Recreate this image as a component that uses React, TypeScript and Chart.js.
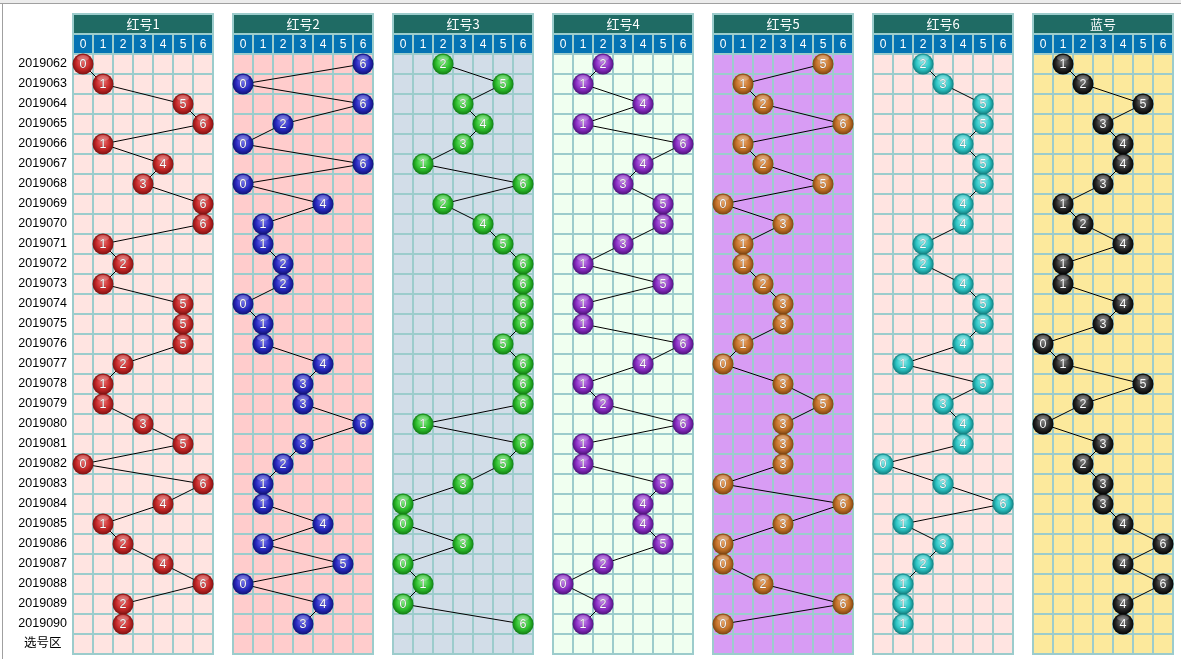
import React, { useEffect, useRef } from 'react';
import { Chart, registerables } from 'chart.js';

Chart.register(...registerables);

const periods = [
  '2019062', '2019063', '2019064', '2019065', '2019066', '2019067', '2019068', '2019069', '2019070', '2019071',
  '2019072', '2019073', '2019074', '2019075', '2019076', '2019077', '2019078', '2019079', '2019080', '2019081',
  '2019082', '2019083', '2019084', '2019085', '2019086', '2019087', '2019088', '2019089', '2019090',
];
const rowLabels = [...periods, '选号区'];
const panelTitles = ['红号1', '红号2', '红号3', '红号4', '红号5', '红号6', '蓝号'];
const columnDigits = ['0', '1', '2', '3', '4', '5', '6'];

const red1 = [0, 1, 5, 6, 1, 4, 3, 6, 6, 1, 2, 1, 5, 5, 5, 2, 1, 1, 3, 5, 0, 6, 4, 1, 2, 4, 6, 2, 2];
const red2 = [6, 0, 6, 2, 0, 6, 0, 4, 1, 1, 2, 2, 0, 1, 1, 4, 3, 3, 6, 3, 2, 1, 1, 4, 1, 5, 0, 4, 3];
const red3 = [2, 5, 3, 4, 3, 1, 6, 2, 4, 5, 6, 6, 6, 6, 5, 6, 6, 6, 1, 6, 5, 3, 0, 0, 3, 0, 1, 0, 6];
const red4 = [2, 1, 4, 1, 6, 4, 3, 5, 5, 3, 1, 5, 1, 1, 6, 4, 1, 2, 6, 1, 1, 5, 4, 4, 5, 2, 0, 2, 1];
const red5 = [5, 1, 2, 6, 1, 2, 5, 0, 3, 1, 1, 2, 3, 3, 1, 0, 3, 5, 3, 3, 3, 0, 6, 3, 0, 0, 2, 6, 0];
const red6 = [2, 3, 5, 5, 4, 5, 5, 4, 4, 2, 2, 4, 5, 5, 4, 1, 5, 3, 4, 4, 0, 3, 6, 1, 3, 2, 1, 1, 1];
const blue = [1, 2, 5, 3, 4, 4, 3, 1, 2, 4, 1, 1, 4, 3, 0, 1, 5, 2, 0, 3, 2, 3, 3, 4, 6, 4, 6, 4, 4];

const panelSeries = [red1, red2, red3, red4, red5, red6, blue];

const panelBg = ['#ffe4e1', '#ffcccc', '#d2dde8', '#f0fff0', '#d89cf4', '#ffe4e1', '#fce99c'];
// [light, base, dark]
const ballShades = [
  ['#ec6a6a', '#c22626', '#741010'],
  ['#7070f0', '#2828be', '#10106a'],
  ['#80ee80', '#2cbc2c', '#107410'],
  ['#c380ec', '#882cc2', '#481070'],
  ['#eca464', '#c07028', '#743e0e'],
  ['#84ecec', '#2cc2c2', '#107474'],
  ['#7a7a7a', '#262626', '#000000'],
];

const GRID = '#9ccccc';
const TEAL = '#1f6b64';
const HEAD_BLUE = '#0573b3';
const PANEL_STEP = 8;

function makeBall(shade: string[], label: string): HTMLCanvasElement {
  const c = document.createElement('canvas');
  c.width = 22;
  c.height = 22;
  const g = c.getContext('2d') as CanvasRenderingContext2D;
  const grad = g.createRadialGradient(11, 8, 1, 11, 11, 11);
  grad.addColorStop(0, shade[0]);
  grad.addColorStop(0.6, shade[1]);
  grad.addColorStop(1, shade[2]);
  g.beginPath();
  g.arc(11, 11, 10.5, 0, Math.PI * 2);
  g.fillStyle = grad;
  g.fill();
  g.beginPath();
  g.ellipse(11, 5, 6, 3, 0, 0, Math.PI * 2);
  g.fillStyle = 'rgba(255,255,255,0.25)';
  g.fill();
  g.font = '12.5px "Liberation Sans", Arial, sans-serif';
  g.textAlign = 'center';
  g.textBaseline = 'middle';
  g.shadowColor = 'rgba(0,0,0,0.7)';
  g.shadowBlur = 1;
  g.fillStyle = '#ffffff';
  g.fillText(label, 11, 11.5);
  return c;
}

const panelPlugin = {
  id: 'panelPlugin',
  beforeDraw(chart: any) {
    const { ctx, width, height } = chart;
    ctx.save();
    ctx.fillStyle = '#ffffff';
    ctx.fillRect(0, 0, width, height);
    ctx.fillStyle = '#ececec';
    ctx.fillRect(0, 0, width, 3);
    ctx.fillStyle = '#a0a0a0';
    ctx.fillRect(0, 3, width, 1);
    ctx.fillRect(2, 3, 1, height - 3);
    ctx.restore();
  },
  beforeDatasetsDraw(chart: any) {
    const { ctx } = chart;
    const xs = chart.scales.x;
    const ys = chart.scales.y;
    const rowH = ys.getPixelForValue(1) - ys.getPixelForValue(0);
    const edge = (i: number) => ys.getPixelForValue(i) - rowH / 2;
    const top = edge(-2);
    const bottom = edge(rowLabels.length);
    ctx.save();
    panelTitles.forEach((title, p) => {
      const l = xs.getPixelForValue(p * PANEL_STEP);
      const r = xs.getPixelForValue(p * PANEL_STEP + columnDigits.length);
      ctx.fillStyle = GRID;
      ctx.fillRect(l - 1, top - 1, r - l + 2, bottom - top + 2);
      ctx.fillStyle = TEAL;
      ctx.fillRect(l + 1, top + 1, r - l - 2, rowH - 2);
      ctx.fillStyle = '#ffffff';
      ctx.font = '13px "Noto Sans CJK SC", "Liberation Sans", sans-serif';
      ctx.textAlign = 'center';
      ctx.textBaseline = 'middle';
      ctx.fillText(title, (l + r) / 2, top + rowH / 2 + 0.5);
      columnDigits.forEach((d, c) => {
        const cl = xs.getPixelForValue(p * PANEL_STEP + c);
        const cr = xs.getPixelForValue(p * PANEL_STEP + c + 1);
        ctx.fillStyle = HEAD_BLUE;
        ctx.fillRect(cl + 1, edge(-1) + 1, cr - cl - 2, rowH - 2);
        ctx.fillStyle = '#ffffff';
        ctx.font = '12px "Liberation Sans", sans-serif';
        ctx.fillText(d, (cl + cr) / 2, edge(-1) + rowH / 2 + 0.5);
        ctx.fillStyle = panelBg[p];
        for (let i = 0; i < rowLabels.length; i++) {
          ctx.fillRect(cl + 1, edge(i) + 1, cr - cl - 2, rowH - 2);
        }
      });
    });
    ctx.restore();
  },
};

export default function App() {
  const canvasRef = useRef<HTMLCanvasElement | null>(null);

  useEffect(() => {
    const canvas = canvasRef.current;
    if (!canvas) return;
    const balls = ballShades.map((shade) => columnDigits.map((d) => makeBall(shade, d)));
    const datasets = panelSeries.map((series, p) => ({
      label: panelTitles[p],
      data: series.map((v, i) => ({ x: p * PANEL_STEP + v + 0.5, y: i })),
      showLine: true,
      borderColor: '#000000',
      borderWidth: 1,
      tension: 0,
      pointStyle: series.map((v) => balls[p][v]),
      pointRadius: 10,
      pointHoverRadius: 10,
      clip: false as any,
    }));
    const chart = new Chart(canvas, {
      type: 'scatter',
      data: { datasets: datasets as any },
      options: {
        animation: false,
        responsive: false,
        devicePixelRatio: 1,
        events: [],
        layout: { autoPadding: false, padding: { left: 0, right: 8, top: 54, bottom: 5 } },
        plugins: { legend: { display: false }, tooltip: { enabled: false }, title: { display: false } },
        scales: {
          x: { type: 'linear', min: 0, max: 55, display: false },
          y: {
            type: 'category',
            labels: rowLabels,
            offset: true,
            reverse: false,
            grid: { display: false, drawTicks: false },
            border: { display: false },
            ticks: {
              autoSkip: false,
              padding: 6,
              crossAlign: 'center',
              color: '#000000',
              font: { family: '"Liberation Sans", "Noto Sans CJK SC", sans-serif', size: 12.5 },
            },
            afterFit: (scale: any) => {
              scale.width = 73;
              scale.paddingTop = 0;
              scale.paddingBottom = 0;
            },
          } as any,
        },
      } as any,
      plugins: [panelPlugin],
    });
    return () => chart.destroy();
  }, []);

  return (
    <div style={{ position: 'absolute', left: 0, top: 0, width: 1181, height: 659 }}>
      <canvas ref={canvasRef} width={1181} height={659} style={{ display: 'block' }} />
    </div>
  );
}
